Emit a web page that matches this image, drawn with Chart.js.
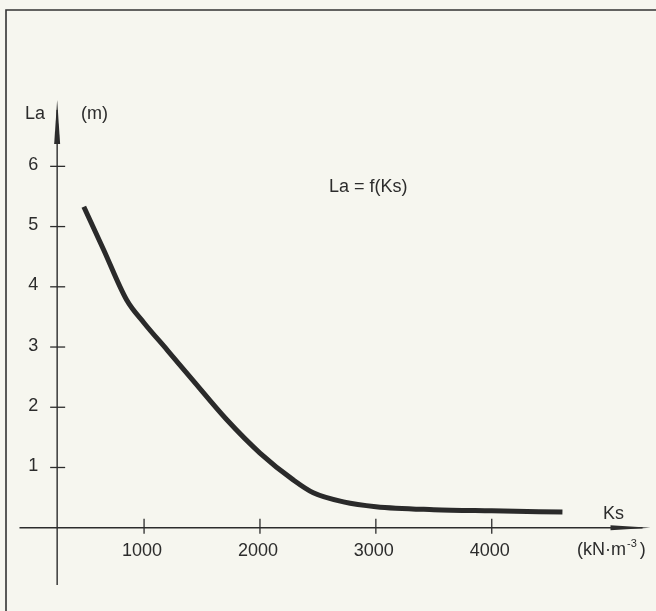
<!DOCTYPE html>
<html><head><meta charset="utf-8">
<script src="https://cdn.jsdelivr.net/npm/chart.js@4.4.1/dist/chart.umd.min.js"></script>
<style>html,body{margin:0;padding:0;background:#f6f6ef;} canvas{display:block;}</style>
</head><body>
<canvas id="c" width="656" height="611"></canvas>
<script>
// ---- data ----
const ksValues = [480, 650, 850, 1000, 1200, 1420, 1710, 2000, 2290, 2460, 2720, 3000, 3500, 4000, 4610];
const laValues = [5.33, 4.62, 3.78, 3.40, 2.95, 2.45, 1.80, 1.24, 0.79, 0.58, 0.43, 0.35, 0.30, 0.28, 0.26];
const xTickValues = [1000, 2000, 3000, 4000];
const yTickValues = [1, 2, 3, 4, 5, 6];
const xAxisTitle = 'Ks';
const xAxisUnit = '(kN·m';
const xAxisUnitSup = '-3';
const yAxisTitle = 'La';
const yAxisUnit = '(m)';
const functionLabel = 'La = f(Ks)';
const yAxisAtKs = 250;          // where the vertical axis crosses the Ks axis
const xAxisExtent = [-75, 5370]; // Ks extent of horizontal axis (arrow tip)
const yAxisExtent = [-0.95, 7.1]; // La extent of vertical axis (arrow tip)

const INK = '#2c2c2c';
const FONT = '18px "Liberation Sans", Arial, sans-serif';

const points = ksValues.map((k, i) => ({ x: k, y: laValues[i] }));

const axesPlugin = {
  id: 'handAxes',
  beforeDraw(chart) {
    const c = chart.ctx;
    c.save();
    c.fillStyle = '#f6f6ef';
    c.fillRect(0, 0, chart.width, chart.height);
    // frame (top and left edges of the plate)
    c.strokeStyle = '#333';
    c.lineWidth = 1.6;
    c.beginPath();
    c.moveTo(6, 611); c.lineTo(6, 10); c.lineTo(656, 10);
    c.stroke();
    c.restore();
  },
  beforeDatasetsDraw(chart) {
    const c = chart.ctx;
    const xs = chart.scales.x, ys = chart.scales.y;
    const ax = xs.getPixelForValue(yAxisAtKs);
    const ay = ys.getPixelForValue(0);
    c.save();
    c.strokeStyle = INK;
    c.fillStyle = INK;
    c.lineWidth = 1.4;
    // vertical axis
    const yTop = ys.getPixelForValue(yAxisExtent[1]);
    const yBot = ys.getPixelForValue(yAxisExtent[0]);
    c.beginPath(); c.moveTo(ax, yBot); c.lineTo(ax, yTop + 10); c.stroke();
    c.beginPath(); c.moveTo(ax - 3, yTop + 44); c.lineTo(ax, yTop); c.lineTo(ax + 3, yTop + 44); c.closePath(); c.fill();
    // horizontal axis
    const xL = xs.getPixelForValue(xAxisExtent[0]);
    const xR = xs.getPixelForValue(xAxisExtent[1]);
    c.beginPath(); c.moveTo(xL, ay); c.lineTo(xR - 8, ay); c.stroke();
    c.beginPath(); c.moveTo(xR - 40, ay - 2.5); c.lineTo(xR, ay); c.lineTo(xR - 40, ay + 2.5); c.closePath(); c.fill();
    // ticks
    c.lineWidth = 1.3;
    yTickValues.forEach(v => {
      const py = ys.getPixelForValue(v);
      c.beginPath(); c.moveTo(ax - 7, py); c.lineTo(ax + 8, py); c.stroke();
    });
    xTickValues.forEach(v => {
      const px = xs.getPixelForValue(v);
      c.beginPath(); c.moveTo(px, ay - 9); c.lineTo(px, ay + 6); c.stroke();
    });
    c.restore();
  },
  afterDraw(chart) {
    const c = chart.ctx;
    const xs = chart.scales.x, ys = chart.scales.y;
    const ax = xs.getPixelForValue(yAxisAtKs);
    const ay = ys.getPixelForValue(0);
    c.save();
    c.fillStyle = INK;
    c.font = FONT;
    c.textBaseline = 'alphabetic';
    // y tick labels
    c.textAlign = 'center';
    yTickValues.forEach(v => {
      c.fillText(String(v), ax - 24, ys.getPixelForValue(v) + 3.5);
    });
    // x tick labels
    xTickValues.forEach(v => {
      c.fillText(String(v), xs.getPixelForValue(v) - 2, ay + 28);
    });
    // axis titles
    c.textAlign = 'left';
    c.fillText(yAxisTitle, 25, 119);
    c.fillText(yAxisUnit, 81, 119);
    c.fillText(xAxisTitle, 603, 519);
    // unit with superscript
    let x0 = 577;
    c.fillText(xAxisUnit, x0, 555);
    x0 += c.measureText(xAxisUnit).width + 1;
    c.font = '11px "Liberation Sans", Arial, sans-serif';
    c.fillText(xAxisUnitSup, x0, 547);
    x0 += c.measureText(xAxisUnitSup).width + 3;
    c.font = FONT;
    c.fillText(')', x0, 555);
    // function label
    c.fillText(functionLabel, 329, 192);
    c.restore();
  }
};

new Chart(document.getElementById('c'), {
  type: 'line',
  data: {
    datasets: [{
      data: points,
      borderColor: '#2a2a2a',
      borderWidth: 5,
      borderCapStyle: 'butt',
      borderJoinStyle: 'round',
      cubicInterpolationMode: 'monotone',
      pointRadius: 0,
      fill: false
    }]
  },
  options: {
    responsive: false,
    animation: false,
    events: [],
    layout: { padding: { left: 5, right: 2, top: 76, bottom: 11 } },
    plugins: { legend: { display: false }, tooltip: { enabled: false }, title: { display: false } },
    scales: {
      x: { type: 'linear', min: -200, max: 5400, display: false },
      y: { type: 'linear', min: -1.2, max: 7.5, display: false }
    }
  },
  plugins: [axesPlugin]
});
</script>
</body></html>
